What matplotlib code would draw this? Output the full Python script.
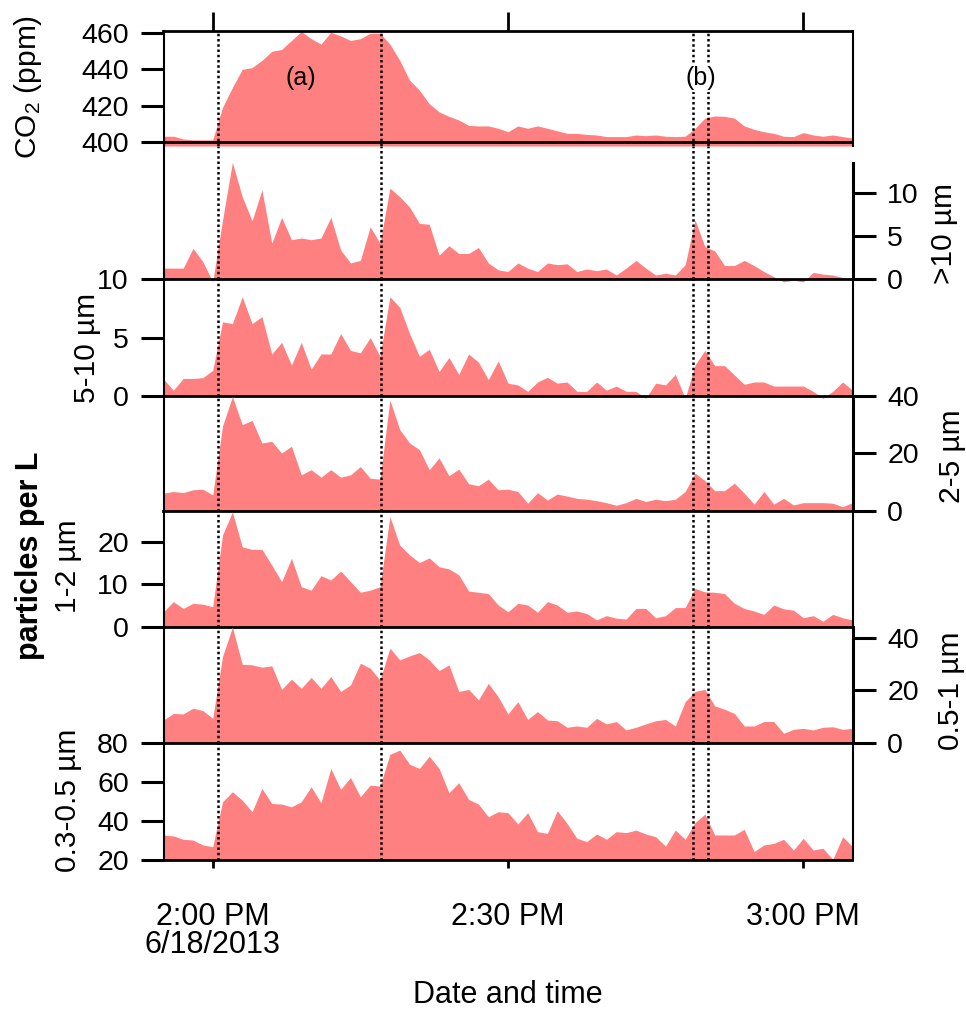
import numpy as np
import pandas as pd
import matplotlib
matplotlib.use('Agg')
import matplotlib.pyplot as plt

plt.rcParams['font.family'] = ['Liberation Sans', 'DejaVu Sans']
plt.rcParams['mathtext.fontset'] = 'custom'
plt.rcParams['mathtext.rm'] = 'Liberation Sans'
plt.rcParams['mathtext.it'] = 'Liberation Sans:italic'
plt.rcParams['mathtext.default'] = 'regular'

# one sample per minute, 1:55 PM to 3:05 PM
times = pd.date_range('2013-06-18 13:55', '2013-06-18 15:05', freq='1min')

co2 = [403, 403, 401.5, 401, 401, 401, 419, 430, 440, 441,
       445, 450, 451, 456, 461, 457, 454, 460.5, 458.5, 456,
       457, 460, 460, 454, 445, 434, 428.5, 421, 416.5, 414,
       412, 409, 408.7, 408.7, 407.4, 405.5, 408.7, 407.4, 408.7, 407.4,
       406, 404.6, 404.6, 404, 403.7, 402.8, 402.8, 402.8, 403.7, 403.3,
       403.7, 403, 402.8, 403, 407.4, 413, 414.2, 414, 413, 408.7,
       406.8, 405.5, 404.6, 403, 402.8, 405, 403.7, 403, 403.7, 402.8, 402]

gt10 = [1.3, 1.3, 1.3, 3.6, 2.05, -0.3, 6.9, 13.6, 9.6, 6.8,
        10.4, 4.2, 7.2, 4.6, 4.8, 4.6, 4.8, 7.2, 3.4, 1.9,
        2.2, 6.1, 4.2, 10.6, 9.6, 8.4, 6.5, 6.4, 2.8, 3.9,
        3.0, 3.0, 3.7, 1.9, 1.1, 0.9, 1.9, 1.3, 0.9, 1.9,
        1.7, 1.8, 0.9, 1.2, 1.0, 1.2, 0.5, 1.3, 2.2, 1.3,
        0.5, 0.7, 0.5, 1.7, 6.9, 3.8, 3.3, 1.6, 1.6, 2.2,
        1.6, 0.9, 0.3, -0.3, -0.1, -0.3, 0.8, 0.6, 0.5, 0.2, -0.2]

p5_10 = [1.45, 0.5, 1.5, 1.5, 1.57, 2.2, 6.35, 6.2, 8.5, 6.2,
         6.8, 3.6, 4.6, 2.65, 4.6, 2.3, 3.6, 3.6, 5.35, 3.9,
         3.7, 5.0, 3.4, 8.5, 7.6, 5.35, 3.4, 4.0, 2.1, 3.3,
         1.85, 3.6, 2.9, 1.4, 3.0, 1.1, 0.95, 0.4, 1.2, 1.6,
         1.1, 1.2, 0.4, 0.4, 1.2, 0.5, 0.85, 0.4, 0.4, -0.2,
         1.1, 0.95, 1.85, -0.2, 2.65, 3.9, 2.6, 2.6, 1.8, 1.0,
         1.2, 1.2, 0.85, 0.85, 0.85, 0.85, 0.4, -0.2, 0.4, 1.2, 0.5]

p2_5 = [6.1, 6.7, 6.3, 7.3, 7.5, 5.5, 29.5, 39.8, 30, 31.5,
        23.6, 24.2, 20.1, 22.5, 12.5, 14.3, 11.7, 14.3, 11.7, 12.5,
        15.4, 11.3, 11.0, 38.6, 28.3, 23.6, 21.3, 14.3, 18.4, 12.2,
        14.5, 9.4, 8.7, 11.0, 7.3, 7.5, 6.7, 2.6, 6.3, 3.7,
        5.8, 5.1, 4.3, 4.0, 3.5, 2.8, 1.9, 2.8, 4.3, 3.2,
        4.0, 3.5, 4.0, 6.7, 13.1, 10.5, 7.0, 7.0, 9.6, 6.1,
        2.3, 6.7, 2.3, 4.3, 2.0, 2.8, 2.8, 2.8, 2.6, 1.4, 2.8]

p1_2 = [3.5, 5.9, 4.3, 5.5, 5.3, 4.7, 21.6, 27.0, 18.8, 18.2,
        18.2, 14.5, 10.6, 16.1, 9.4, 8.6, 12.0, 11.0, 13.1, 10.6,
        8.1, 8.6, 9.4, 25.9, 19.2, 16.9, 15.1, 16.2, 14.1, 13.6,
        12.2, 8.4, 8.1, 7.8, 5.1, 3.5, 5.5, 5.1, 3.4, 5.9,
        5.1, 3.4, 3.7, 3.1, 1.6, 2.6, 2.0, 1.8, 4.3, 4.3,
        2.1, 2.6, 4.5, 4.5, 9.0, 8.2, 8.1, 7.8, 5.5, 4.3,
        3.7, 2.9, 5.1, 4.2, 3.9, 2.1, 2.6, 1.3, 2.9, 2.1, 1.6]

p05_1 = [8.7, 11.2, 11.0, 13.2, 12.3, 9.3, 33, 44.2, 30, 29.8,
         28.9, 29.4, 20.4, 24.3, 20.8, 25.0, 20.8, 25.3, 19.6, 22.1,
         30.4, 28.5, 24.0, 36.2, 31.7, 33.2, 34.5, 31.7, 27.6, 29.8,
         19.6, 20.4, 16.4, 22.7, 17.6, 11.0, 15.7, 8.9, 11.9, 8.7,
         8.4, 5.9, 6.4, 5.9, 9.3, 7.2, 8.1, 4.9, 5.9, 7.2,
         8.4, 8.9, 6.4, 15.7, 19.6, 20.4, 14.1, 12.8, 11.2, 6.4,
         6.4, 8.1, 8.1, 3.6, 5.1, 5.5, 4.9, 5.9, 6.1, 5.1, 5.5]

p03_05 = [32.8, 32.3, 30.6, 30.2, 27.7, 26.8, 49.8, 54.9, 50.6, 44.7,
          56.6, 48.9, 48.6, 47.2, 49.8, 57.4, 49.3, 66.8, 56.1, 62.2,
          52.3, 58.3, 57.8, 74.1, 76.2, 69.0, 66.8, 73.1, 66.8, 54.4,
          59.5, 51.0, 48.6, 42.1, 44.7, 44.2, 38.4, 44.2, 34.5, 33.6,
          45.2, 38.7, 31.1, 29.4, 33.3, 30.6, 34.5, 34.0, 35.3, 33.3,
          31.9, 27.1, 35.3, 30.6, 39.1, 43.5, 32.8, 32.8, 32.8, 35.7,
          24.3, 27.7, 28.5, 30.6, 25.1, 31.1, 25.1, 26.0, 20.3, 31.9, 26.8]

events = pd.to_datetime(['2013-06-18 14:00:30', '2013-06-18 14:17:05',
                         '2013-06-18 14:48:50', '2013-06-18 14:50:20'])
xticks = pd.to_datetime(['2013-06-18 14:00', '2013-06-18 14:30', '2013-06-18 15:00'])
xticklabels = ['2:00 PM', '2:30 PM', '3:00 PM']

W, H = 966, 1010
fig = plt.figure(figsize=(W / 100, H / 100), dpi=100)
FILL = '#FF8080'
FS = 20.5
LFS = 21.5

# (top px, bottom px, data, ylim, fill base, tick side, ticks, label, label x, label y)
panels = [
    (30.7, 146, co2, (397.6, 461.4), 397.6, 'left', [400, 420, 440, 460], 'CO$_2$ (ppm)', 28, 87),
    (146, 279.3, gt10, (0, 15.5), 0, 'right', [0, 5, 10], '>10 µm', 944, 233),
    (279.3, 396, p5_10, (0, 10), 0, 'left', [0, 5, 10], '5-10 µm', 87, 348),
    (396, 510.7, p2_5, (0, 40), 0, 'right', [0, 20, 40], '2-5 µm', 952, 456),
    (510.7, 626.7, p1_2, (0, 27.3), 0, 'left', [0, 10, 20], '1-2 µm', 68, 566),
    (626.7, 742.7, p05_1, (0, 44.4), 0, 'right', [0, 20, 40], '0.5-1 µm', 951, 691),
    (742.7, 860, p03_05, (20, 80), 20, 'left', [20, 40, 60, 80], '0.3-0.5 µm', 68, 800),
]

axes = []
for top, bot, vals, ylim, base, side, ticks, label, lx, ly in panels:
    ax = fig.add_axes([163.5 / W, 1 - bot / H, 689 / W, (bot - top) / H])
    ax.set_facecolor('none')
    ax.fill_between(times, vals, base, color=FILL, lw=0, clip_on=False)
    ax.set_xlim(times[0], times[-1])
    ax.set_ylim(*ylim)
    for ev in events:
        ax.axvline(ev, color='black', lw=1.8, ls=(0, (1, 1.1)), zorder=3)
    ax.set_yticks(ticks)
    ax.tick_params(axis='y', direction='out', length=16.5, width=2.2, pad=8.5,
                   labelsize=FS, left=(side == 'left'), labelleft=(side == 'left'),
                   right=(side == 'right'), labelright=(side == 'right'))
    ax.tick_params(axis='x', bottom=False, labelbottom=False)
    ax.spines['top'].set_visible(False)
    ax.spines['left'].set_linewidth(1.5)
    ax.spines['right'].set_linewidth(1.5)
    ax.spines['bottom'].set_linewidth(2)
    if side == 'right':
        ax.spines['right'].set_linewidth(2.2)
    fig.text(lx / W, 1 - ly / H, label, rotation=90, ha='center', va='center', fontsize=LFS)
    axes.append(ax)

# CO2 panel: baseline at 400, ticks on top
ax_co2 = axes[0]
ax_co2.spines['bottom'].set_position(('data', 400))
ax_co2.spines['top'].set_visible(True)
ax_co2.spines['top'].set_linewidth(2)
ax_co2.set_xticks(xticks)
ax_co2.tick_params(axis='x', top=True, labeltop=False, direction='out', length=14, width=2)
ax_co2.text(pd.Timestamp('2013-06-18 14:09'), 435, '(a)', ha='center', va='center',
            fontsize=18, zorder=5)
ax_co2.text(pd.Timestamp('2013-06-18 14:49:35'), 435, '(b)', ha='center', va='center',
            fontsize=18, zorder=5,
            bbox=dict(boxstyle='square,pad=0.05', facecolor='white', edgecolor='none'))

axes[1].spines['right'].set_bounds(0, 13.5)

ax_last = axes[-1]
ax_last.set_xticks(xticks)
ax_last.set_xticklabels(xticklabels)
ax_last.tick_params(axis='x', bottom=True, labelbottom=True, direction='out',
                    length=6, width=2, pad=24, labelsize=22)

fig.text(213 / W, 1 - 945 / H, '6/18/2013', ha='center', va='center', fontsize=22)
fig.text(508 / W, 1 - 995 / H, 'Date and time', ha='center', va='center', fontsize=22)
fig.text(30 / W, 1 - 556 / H, 'particles per L', rotation=90, ha='center', va='center',
         fontsize=22, fontweight='bold')

fig.savefig('out.png', dpi=100)
